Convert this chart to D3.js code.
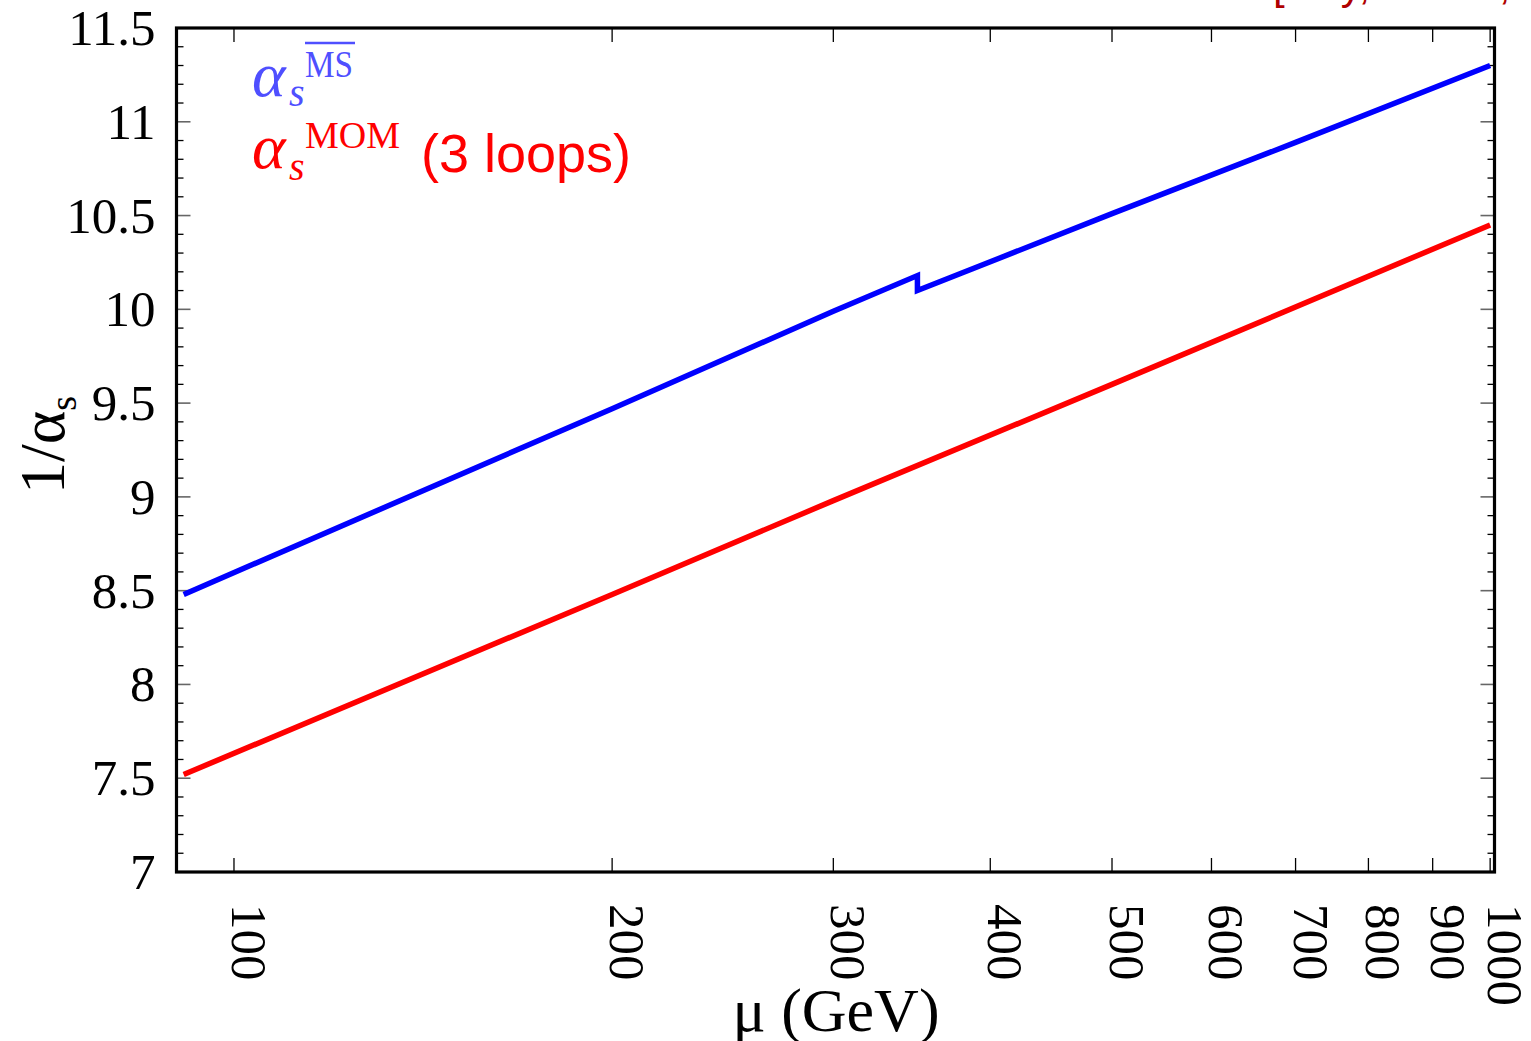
<!DOCTYPE html>
<html lang="en">
<head>
  <meta charset="UTF-8">
  <title>1/alpha_s running</title>
  <script src="https://d3js.org/d3.v7.min.js"></script>
  <style>
    body { margin: 0; background: #fff; }
    svg { display: block; }
    .tick-label { font-family: "Liberation Serif", "DejaVu Serif", serif; font-size: 51px; fill: #000; }
    .axis-title { font-family: "Liberation Serif", "DejaVu Serif", serif; fill: #000; }
    .math { font-family: "Liberation Serif", "DejaVu Serif", serif; }
  </style>
</head>
<body>
<div id="chart"></div>
<script>
  // values (the MSbar curve jumps at the top threshold)
  const muMS = [91.19, 200, 300, 350, 350, 500, 700, 1000];
  const invAlphaMS = [8.48, 9.47, 9.99, 10.18, 10.10, 10.51, 10.89, 11.30];
  const muMOM = [91.19, 200, 300, 500, 1000];
  const invAlphaMOM = [7.52, 8.48, 8.98, 9.60, 10.45];
  const xTicks = [100, 200, 300, 400, 500, 600, 700, 800, 900, 1000];
  const yTicks = [7, 7.5, 8, 8.5, 9, 9.5, 10, 10.5, 11, 11.5];

  const width = 1531, height = 1041;
  const margin = { top: 28, right: 36.5, bottom: 169, left: 176.5 };

  const svg = d3.select("#chart").append("svg")
    .attr("width", width)
    .attr("height", height);

  const x = d3.scaleLog()
    .domain([90, 1008])
    .range([margin.left, width - margin.right]);

  const y = d3.scaleLinear()
    .domain([7, 11.5])
    .range([height - margin.bottom, margin.top]);

  const x0 = margin.left, x1 = width - margin.right;
  const y0 = height - margin.bottom, y1 = margin.top;

  // minor y ticks every 0.1
  const yMinor = d3.range(70, 116).map(d => d / 10).filter(d => Math.abs(d * 2 - Math.round(d * 2)) > 1e-6);

  const ticks = svg.append("g");
  yMinor.forEach(v => {
    ticks.append("line").attr("x1", x0).attr("x2", x0 + 7).attr("y1", y(v)).attr("y2", y(v))
      .attr("stroke", "#000").attr("stroke-width", 1.3);
    ticks.append("line").attr("x1", x1).attr("x2", x1 - 7).attr("y1", y(v)).attr("y2", y(v))
      .attr("stroke", "#000").attr("stroke-width", 1.3);
  });
  yTicks.forEach(v => {
    ticks.append("line").attr("x1", x0).attr("x2", x0 + 14).attr("y1", y(v)).attr("y2", y(v))
      .attr("stroke", "#666").attr("stroke-width", 1.6);
    ticks.append("line").attr("x1", x1).attr("x2", x1 - 14).attr("y1", y(v)).attr("y2", y(v))
      .attr("stroke", "#666").attr("stroke-width", 1.6);
  });
  xTicks.forEach(v => {
    ticks.append("line").attr("x1", x(v)).attr("x2", x(v)).attr("y1", y0).attr("y2", y0 - 14)
      .attr("stroke", "#000").attr("stroke-width", 1.3);
    ticks.append("line").attr("x1", x(v)).attr("x2", x(v)).attr("y1", y1).attr("y2", y1 + 14)
      .attr("stroke", "#000").attr("stroke-width", 1.3);
  });

  // tick labels
  svg.append("g").selectAll("text")
    .data(yTicks)
    .join("text")
    .attr("class", "tick-label")
    .attr("x", x0 - 21)
    .attr("y", d => y(d) + 17)
    .attr("text-anchor", "end")
    .text(d => d);

  svg.append("g").selectAll("text")
    .data(xTicks)
    .join("text")
    .attr("class", "tick-label")
    .attr("transform", d => `translate(${x(d) - 2},${y0 + 32}) rotate(90)`)
    .attr("text-anchor", "start")
    .text(d => d);

  // curves
  const line = d3.line().x(d => x(d[0])).y(d => y(d[1]));

  svg.append("path")
    .datum(muMS.map((m, i) => [m, invAlphaMS[i]]))
    .attr("d", line)
    .attr("fill", "none")
    .attr("stroke", "#0000ff")
    .attr("stroke-width", 5.5);

  svg.append("path")
    .datum(muMOM.map((m, i) => [m, invAlphaMOM[i]]))
    .attr("d", line)
    .attr("fill", "none")
    .attr("stroke", "#ff0000")
    .attr("stroke-width", 5.5);

  // frame
  svg.append("rect")
    .attr("x", x0).attr("y", y1)
    .attr("width", x1 - x0).attr("height", y0 - y1)
    .attr("fill", "none")
    .attr("stroke", "#000")
    .attr("stroke-width", 3.2);

  // axis titles
  svg.append("text")
    .attr("class", "axis-title")
    .attr("x", 836).attr("y", 1031)
    .attr("text-anchor", "middle")
    .attr("font-size", 62)
    .text("μ (GeV)");

  const yt = svg.append("text")
    .attr("class", "axis-title")
    .attr("transform", "translate(64,445) rotate(-90)")
    .attr("text-anchor", "middle")
    .attr("font-size", 64);
  yt.append("tspan").text("1/α");
  yt.append("tspan").attr("font-size", 38).attr("dy", 12).text("s");

  // legend
  const leg1 = svg.append("g").attr("fill", "#4f4fff");
  leg1.append("text").attr("class", "math").attr("x", 252).attr("y", 96)
    .attr("font-size", 64).attr("font-style", "italic").text("α");
  leg1.append("text").attr("class", "math").attr("x", 289).attr("y", 106)
    .attr("font-size", 40).attr("font-style", "italic").text("s");
  leg1.append("text").attr("class", "math").attr("x", 305).attr("y", 77)
    .attr("font-size", 38).attr("textLength", 48).attr("lengthAdjust", "spacingAndGlyphs").text("MS");
  leg1.append("line").attr("x1", 305).attr("x2", 355).attr("y1", 43).attr("y2", 43)
    .attr("stroke", "#4f4fff").attr("stroke-width", 2.5);

  const leg2 = svg.append("g").attr("fill", "#ff0000");
  leg2.append("text").attr("class", "math").attr("x", 252).attr("y", 168)
    .attr("font-size", 64).attr("font-style", "italic").text("α");
  leg2.append("text").attr("class", "math").attr("x", 289).attr("y", 180)
    .attr("font-size", 40).attr("font-style", "italic").text("s");
  leg2.append("text").attr("class", "math").attr("x", 305).attr("y", 148)
    .attr("font-size", 38).attr("textLength", 95).attr("lengthAdjust", "spacingAndGlyphs").text("MOM");
  leg2.append("text").attr("x", 421).attr("y", 172)
    .attr("font-family", "'Liberation Sans', Arial, sans-serif")
    .attr("font-size", 54).text("(3 loops)");

  // citation, clipped at the top edge as in the original
  svg.append("text")
    .attr("x", 1273).attr("y", -1)
    .attr("font-family", "'Liberation Sans', Arial, sans-serif")
    .attr("font-size", 42)
    .attr("fill", "#b00000")
    .text("[Guy, Mateu,");
</script>
</body>
</html>
